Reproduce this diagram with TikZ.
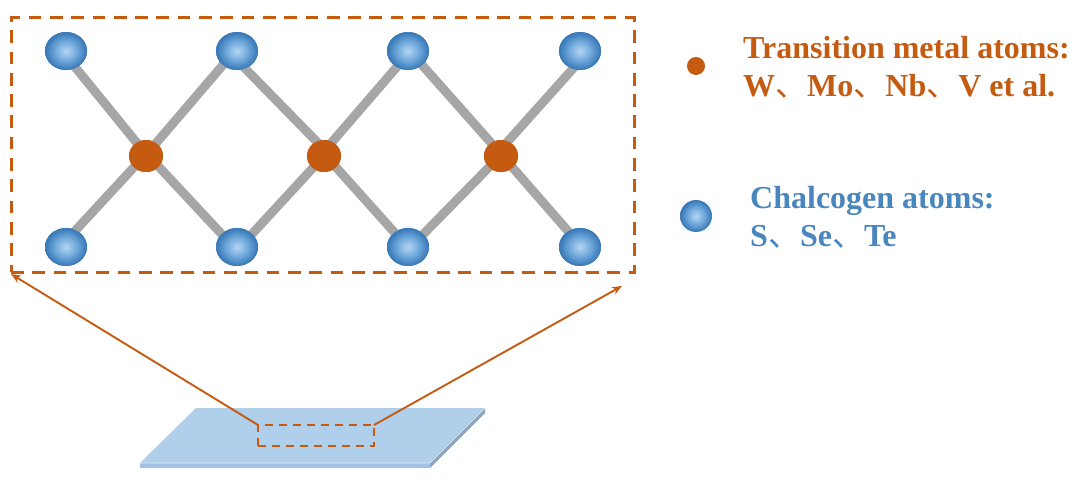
\documentclass[tikz,border=0pt]{standalone}
\usepackage{fontspec}
\setmainfont{Liberation Serif}
\newfontfamily\cjk{Noto Sans CJK SC}
\usetikzlibrary{shapes.geometric,arrows.meta}
\definecolor{rust}{HTML}{C55A11}
\definecolor{ballout}{HTML}{3A7AB8}
\definecolor{ballmid}{HTML}{6FA8DB}
\definecolor{ballin}{HTML}{B4D6F2}
\definecolor{bond}{HTML}{A6A6A6}
\definecolor{plate}{HTML}{AFCFEB}
\definecolor{plateedge}{HTML}{A3C3E4}
\definecolor{chal}{HTML}{4A86BE}
\newcommand{\dun}{{\mdseries\cjk 、}}
\pgfdeclareradialshading{atomshade}{\pgfpoint{0bp}{0bp}}{color(0bp)=(ballin); color(13bp)=(ballmid); color(24bp)=(ballout); color(50bp)=(ballout)}
\tikzset{
  chalcogen/.style={ellipse,inner sep=0pt,outer sep=0pt,minimum width=42pt,minimum height=38pt,shading=atomshade},
  metal/.style={ellipse,inner sep=0pt,outer sep=0pt,minimum width=34pt,minimum height=32pt,fill=rust},
  bondline/.style={draw=bond,line width=9pt,shorten <=-3pt,shorten >=-3pt},
  dashframe/.style={rectangle,draw=rust,inner sep=0pt,outer sep=0pt},
  pointer/.style={draw=rust,line width=1.9pt,-{Stealth[length=10pt,width=8pt]}},
  legendtext/.style={anchor=base west,inner sep=0pt,font=\bfseries\fontsize{32}{32}\selectfont}
}
\begin{document}
\begin{tikzpicture}[x=1pt,y=-1pt]
\useasboundingbox (0,0) rectangle (1076,481);
% plate
\fill[plate] (196,408) -- (485,408) -- (430,463) -- (140,463) -- cycle;
\fill[plateedge] (140,463) -- (430,463) -- (430,468) -- (140,468) -- cycle;
\fill[plateedge!85!black] (430,463) -- (485,408) -- (485,413) -- (430,468) -- cycle;
\draw[white,line width=0.6pt,opacity=0.7] (140,463) -- (430,463) -- (485,408);
% atom positions (bonds need them first)
\foreach \n/\x/\y in {a/66/51,b/237/51,c/408/51,d/580/51,e/66/247,f/237/247,g/408/247,h/580/247}
  \node[chalcogen] (\n) at (\x,\y) {};
\foreach \n/\x in {p/146,q/324,r/501}
  \node[metal] (\n) at (\x,156) {};
% bonds
\foreach \s/\sa/\t/\ta in {a/300/p/125,b/225/p/52,e/60/p/223,f/140/p/-40,
                           b/295/q/117,c/235/q/60,f/41/q/227,g/133/q/-43,
                           c/315/r/127,d/248/r/65,g/40/r/223,h/127/r/-45}
  \draw[bondline] (\s.\sa) -- (\t.\ta);
% atoms drawn again over the bond ends
\foreach \x/\y in {66/51,237/51,408/51,580/51,66/247,237/247,408/247,580/247}
  \node[chalcogen] at (\x,\y) {};
\foreach \x in {146,324,501}
  \node[metal] at (\x,156) {};
% frames
\node[dashframe,line width=3pt,dash pattern=on 12.7pt off 8.6pt,minimum width=623pt,minimum height=254pt] (frame) at (322.5,145) {};
\node[dashframe,line width=2.1pt,dash pattern=on 8pt off 6pt,minimum width=116pt,minimum height=21pt] (win) at (316,435.5) {};
\coordinate (tipL) at (11,274);
\coordinate (tipR) at (622,286);
\draw[pointer] (win.north west) -- (tipL);
\draw[pointer] (win.north east) -- (tipR);
% legend
\node[metal,minimum width=18pt,minimum height=18pt] (lm) at (696,66) {};
\node[chalcogen,minimum width=32pt,minimum height=32pt] (lc) at (696,216) {};
\node[legendtext,text=rust] (t1) at (743,59) {Transition metal atoms:};
\node[legendtext,text=rust] (t2) at (743,97) {W\dun Mo\dun Nb\dun V et al.};
\node[legendtext,text=chal] (t3) at (750,209) {Chalcogen atoms:};
\node[legendtext,text=chal] (t4) at (750,247) {S\dun Se\dun Te};
\end{tikzpicture}
\end{document}
